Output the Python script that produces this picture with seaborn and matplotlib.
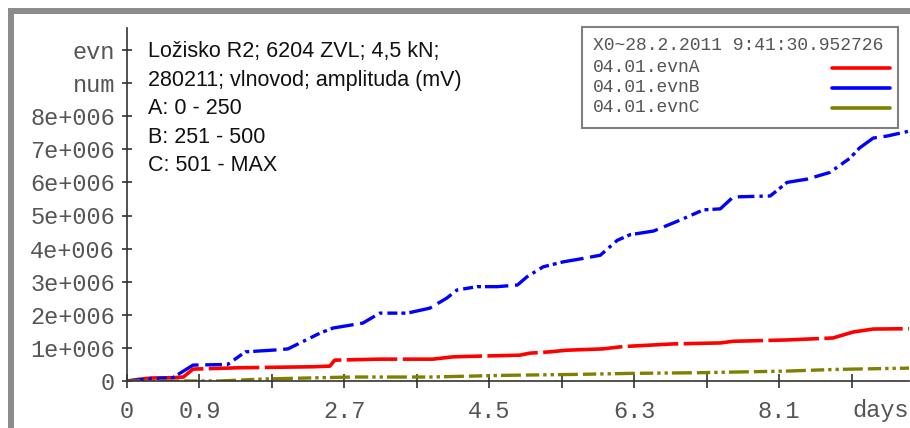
import matplotlib
matplotlib.use("Agg")
import matplotlib.pyplot as plt
from matplotlib.patches import Rectangle
from matplotlib.lines import Line2D
import seaborn as sns
import pandas as pd

# ---------------- data ----------------
days_A = [0.0, 0.15, 0.3, 0.57, 0.7, 0.82, 1.4, 2.31, 2.52, 2.58, 3.14, 3.8, 4.05,
          4.35, 4.88, 5.0, 5.25, 5.46, 5.91, 6.16, 6.78, 7.37, 7.53, 8.2, 8.77,
          9.02, 9.27, 9.73]
evn_A = [0.0, 0.05e6, 0.09e6, 0.1e6, 0.12e6, 0.36e6, 0.4e6, 0.43e6, 0.45e6, 0.63e6,
         0.66e6, 0.66e6, 0.73e6, 0.75e6, 0.78e6, 0.84e6, 0.88e6, 0.93e6, 0.97e6,
         1.04e6, 1.12e6, 1.15e6, 1.2e6, 1.24e6, 1.3e6, 1.48e6, 1.57e6, 1.58e6]

days_B = [0.0, 0.3, 0.57, 0.82, 1.25, 1.47, 1.86, 2.0, 2.15, 2.4, 2.56, 2.93, 3.14,
          3.48, 3.76, 3.97, 4.1, 4.35, 4.6, 4.85, 4.97, 5.17, 5.42, 5.66, 5.88,
          6.09, 6.25, 6.54, 6.87, 7.16, 7.37, 7.53, 7.99, 8.2, 8.45, 8.73, 8.98,
          9.1, 9.27, 9.44, 9.72]
evn_B = [0.0, 0.07e6, 0.1e6, 0.48e6, 0.5e6, 0.88e6, 0.94e6, 0.97e6, 1.15e6, 1.45e6,
         1.6e6, 1.75e6, 2.05e6, 2.05e6, 2.2e6, 2.5e6, 2.75e6, 2.85e6, 2.85e6,
         2.9e6, 3.15e6, 3.45e6, 3.6e6, 3.7e6, 3.8e6, 4.25e6, 4.42e6, 4.53e6,
         4.86e6, 5.17e6, 5.2e6, 5.56e6, 5.59e6, 6.0e6, 6.1e6, 6.3e6, 6.73e6,
         7.04e6, 7.34e6, 7.4e6, 7.55e6]

days_C = [0.0, 1.15, 1.7, 2.4, 2.8, 3.76, 4.67, 5.6, 6.25, 7.1, 8.2, 8.8, 9.73]
evn_C = [0.0, 0.0, 0.06e6, 0.1e6, 0.12e6, 0.12e6, 0.17e6, 0.2e6, 0.23e6, 0.25e6,
         0.3e6, 0.35e6, 0.39e6]

series_names = ["04.01.evnA", "04.01.evnB", "04.01.evnC"]
series_colors = ["#ff0000", "#0000ff", "#808000"]
legend_title = "X0~28.2.2011 9:41:30.952726"

x_ticks = [0.0, 0.9, 1.8, 2.7, 3.6, 4.5, 5.4, 6.3, 7.2, 8.1, 9.0]
x_tick_labels = ["0", "0.9", "", "2.7", "", "4.5", "", "6.3", "", "8.1", ""]
y_ticks = [0, 1e6, 2e6, 3e6, 4e6, 5e6, 6e6, 7e6, 8e6, 9e6, 10e6]
y_tick_labels = ["0", "1e+006", "2e+006", "3e+006", "4e+006", "5e+006",
                 "6e+006", "7e+006", "8e+006", "num", "evn"]
x_unit = "days"
note_lines = ["Ložisko R2; 6204 ZVL; 4,5 kN;",
              "280211; vlnovod; amplituda (mV)",
              "A: 0 - 250",
              "B: 251 - 500",
              "C: 501 - MAX"]

# ---------------- figure ----------------
sns.set_theme(style="white")
plt.rcParams["font.family"] = ["Liberation Mono", "DejaVu Sans"]

W, H = 910, 428
fig = plt.figure(figsize=(W / 100, H / 100), dpi=100)
ax = fig.add_axes([127 / W, 47 / H, (909 - 127) / W, (381 - 28) / H])

dfA = pd.DataFrame({"days": days_A, "evn": evn_A})
dfB = pd.DataFrame({"days": days_B, "evn": evn_B})
dfC = pd.DataFrame({"days": days_C, "evn": evn_C})

lA = sns.lineplot(data=dfA, x="days", y="evn", ax=ax, color=series_colors[0],
                  linewidth=2.6, sort=False)
lB = sns.lineplot(data=dfB, x="days", y="evn", ax=ax, color=series_colors[1],
                  linewidth=2.4, sort=False)
lC = sns.lineplot(data=dfC, x="days", y="evn", ax=ax, color=series_colors[2],
                  linewidth=2.4, sort=False)
lines = ax.get_lines()
lines[0].set_dashes([22, 1.5, 14, 1.5])
lines[1].set_dashes([5, 1.5, 1, 1.5, 3, 1.2, 1.2, 1.2, 7, 2])
lines[2].set_dashes([4, 1.2, 1, 1.2, 1, 1.2, 6, 1.5])
for ln in lines:
    ln.set_solid_capstyle("butt")
    ln.set_dash_capstyle("butt")

ax.set_xlim(0, (909 - 127) / 80.5)
ax.set_ylim(0, (381 - 28) / 33.1 * 1e6)
ax.set_xticks(x_ticks)
ax.set_xticklabels(x_tick_labels)
ax.set_yticks(y_ticks)
ax.set_yticklabels(y_tick_labels)
ax.set_xlabel("")
ax.set_ylabel("")

for s in ["top", "right"]:
    ax.spines[s].set_visible(False)
for s in ["left", "bottom"]:
    ax.spines[s].set_color("#333333")
    ax.spines[s].set_linewidth(1.2)

tick_col = "#555555"
ax.tick_params(axis="x", direction="inout", length=9.5, width=1.2, color="#333333",
               labelsize=17, labelcolor=tick_col, pad=9, bottom=True)
ax.tick_params(axis="y", direction="inout", length=7.5, width=1.2, color="#333333",
               labelsize=17, labelcolor=tick_col, pad=5, left=True)
ax.set_facecolor("white")
ax.patch.set_alpha(0)

# unit label at right end of x axis
ax.text(1.0, -29 / (381 - 28), x_unit, transform=ax.transAxes, ha="right",
        va="center", fontsize=17, color=tick_col, clip_on=False)

# annotation text
for i, t in enumerate(note_lines):
    fig.text(148 / W, 1 - (52 + i * 28.4) / H, t, ha="left", va="center",
             fontsize=15.5, color="#111111", family="Liberation Sans")

# legend box drawn manually
fig.add_artist(Rectangle((582 / W, 1 - 128 / H), 316 / W, 101 / H,
                         transform=fig.transFigure, facecolor="white",
                         edgecolor="#808080", linewidth=1.5, zorder=5))
row_y = [46, 68, 88, 108]
fig.text(593 / W, 1 - row_y[0] / H, legend_title, ha="left", va="center",
         fontsize=13, color="#555555", zorder=6)
for name, col, yy in zip(series_names, series_colors, row_y[1:]):
    fig.text(593 / W, 1 - yy / H, name, ha="left", va="center", fontsize=13,
             color="#555555", zorder=6)
    fig.add_artist(Line2D([832 / W, 890 / W], [1 - yy / H, 1 - yy / H],
                          transform=fig.transFigure, color=col, linewidth=2.6,
                          zorder=6))

# outer grey frame (top and left)
fig.add_artist(Rectangle((8 / W, 0), 6 / W, 1 - 8 / H, transform=fig.transFigure,
                         facecolor="#8c8c8c", edgecolor="none", zorder=7))
fig.add_artist(Rectangle((8 / W, 1 - 14 / H), 1 - 8 / W, 6 / H,
                         transform=fig.transFigure, facecolor="#8c8c8c",
                         edgecolor="none", zorder=7))

fig.savefig("out.png", dpi=100, facecolor="white")
